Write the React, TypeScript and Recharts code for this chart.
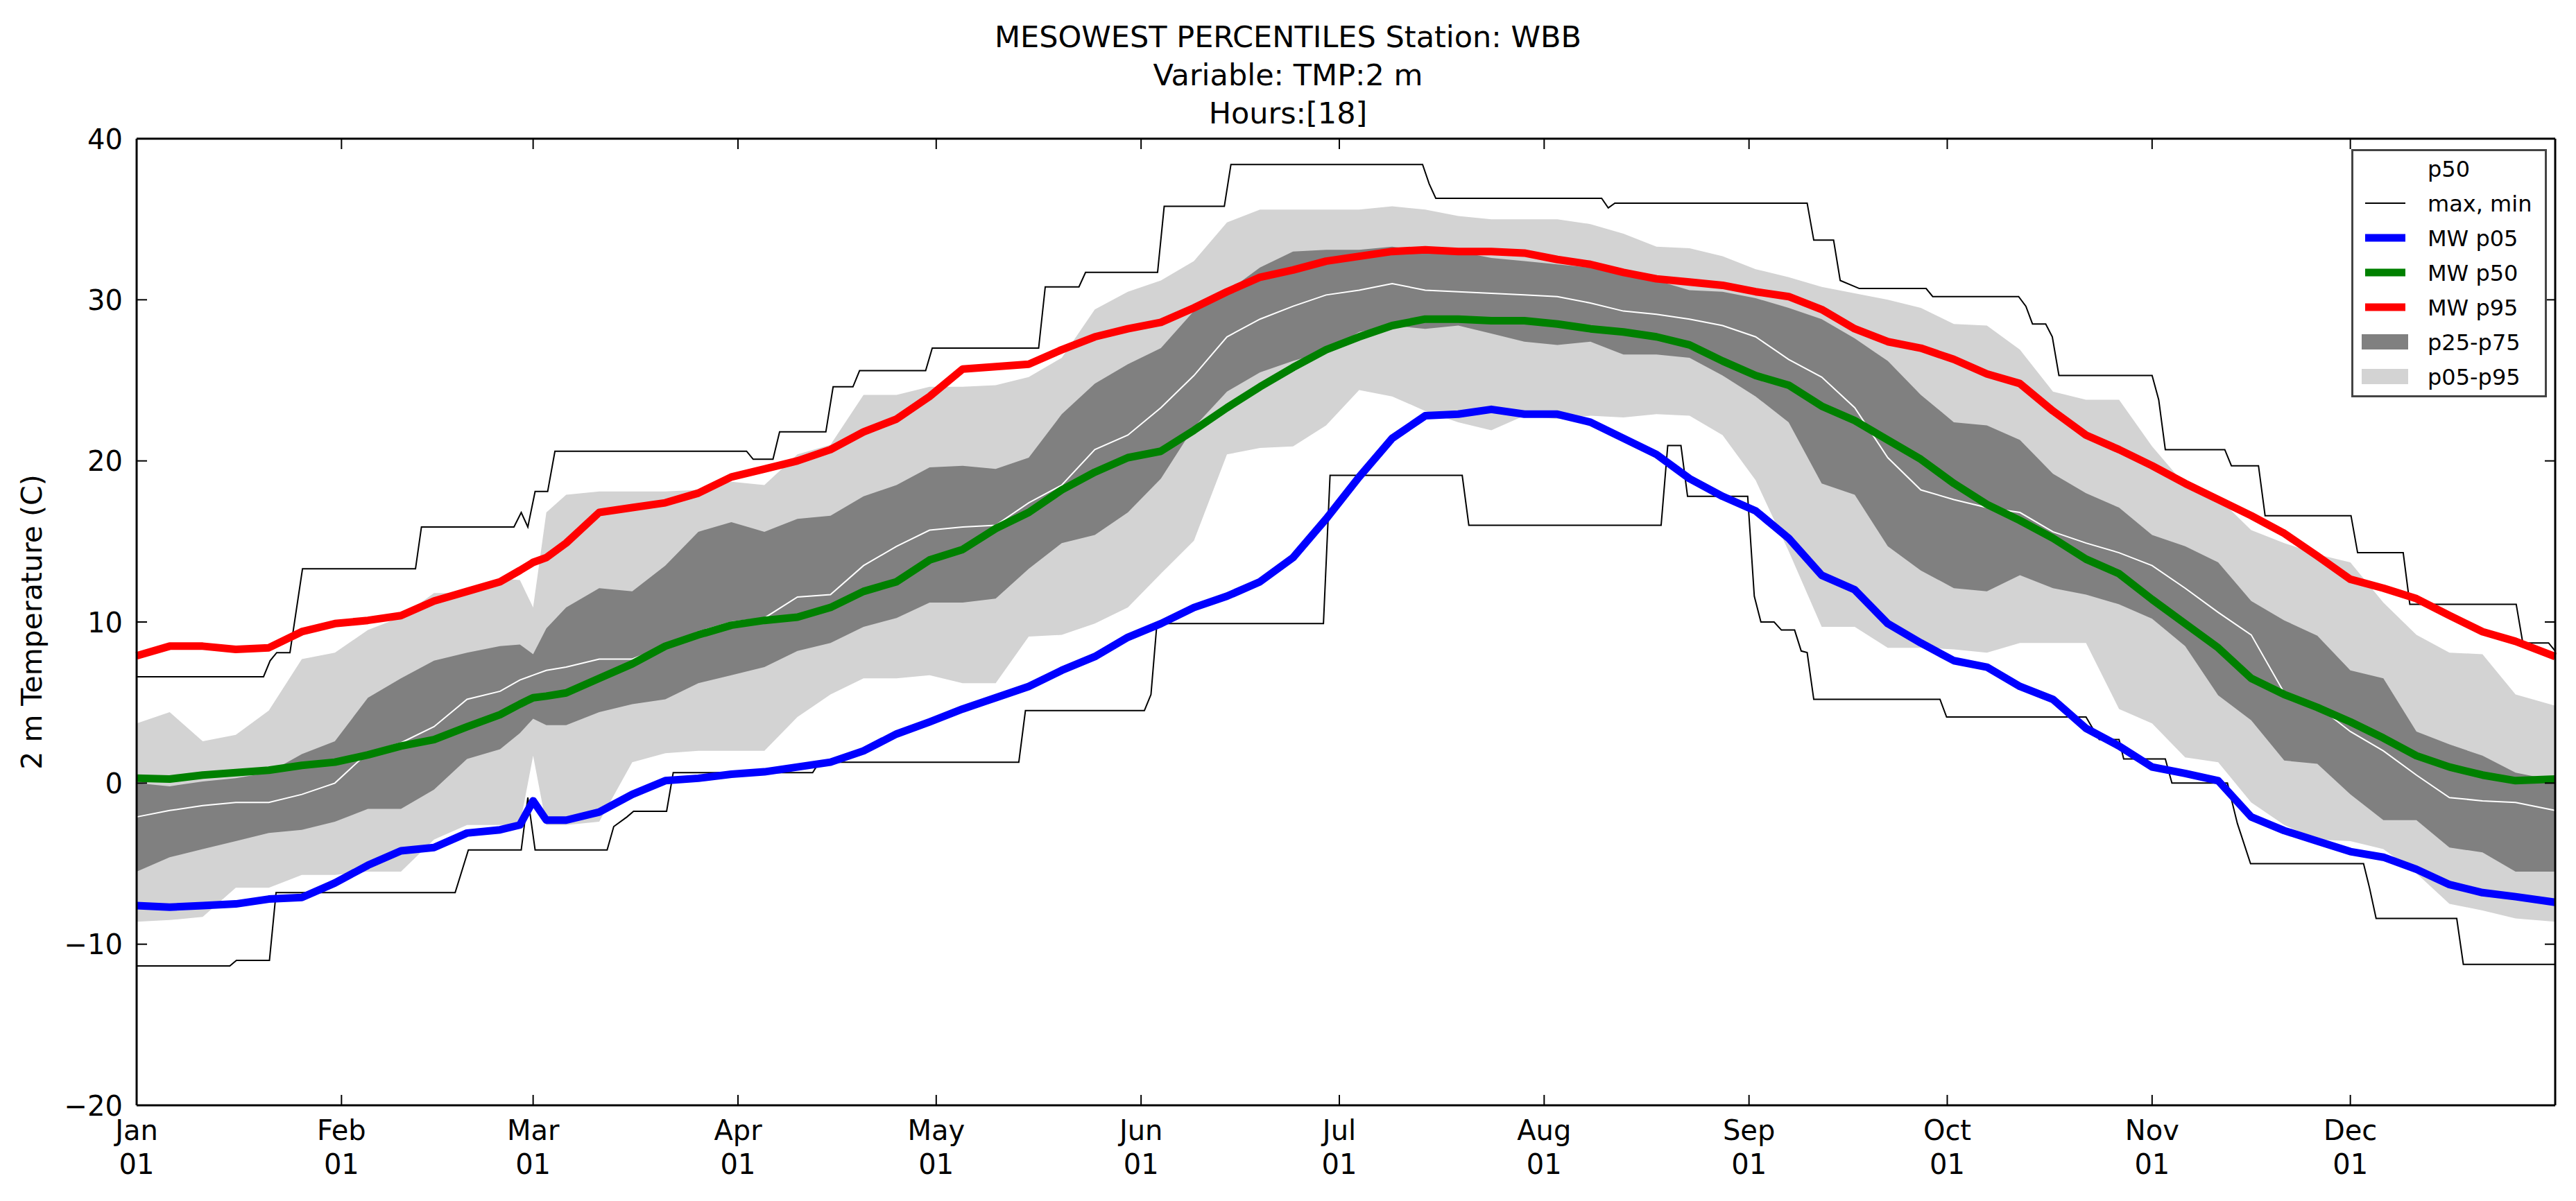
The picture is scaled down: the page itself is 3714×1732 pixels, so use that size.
import React from 'react'
import { ComposedChart, Area, Line, XAxis, YAxis, ReferenceLine, Legend } from 'recharts'

const FONT = 'DejaVu Sans, Verdana, sans-serif'

// day-of-year sample grid (leap year, Jan 01 = 0)
const DAYS = [0, 5, 10, 15, 20, 25, 30, 35, 40, 45, 50, 55, 58, 60, 62, 65, 70, 75, 80, 85, 90, 95, 100, 105, 110, 115, 120, 125, 130, 135, 140, 145, 150, 155, 160, 165, 170, 175, 180, 185, 190, 195, 200, 205, 210, 215, 220, 225, 230, 235, 240, 245, 250, 255, 260, 265, 270, 275, 280, 285, 290, 295, 300, 305, 310, 315, 320, 325, 330, 335, 340, 345, 350, 355, 360, 366]

// station percentiles
const P05 = [-8.6, -8.5, -8.3, -6.5, -6.5, -5.7, -5.7, -5.5, -5.5, -3.5, -2.6, -2.6, -2.6, 1.7, -2.6, -2.6, -2.4, 1.3, 1.85, 2.0, 2.0, 2.0, 4.1, 5.5, 6.5, 6.5, 6.7, 6.2, 6.2, 9.1, 9.2, 9.9, 10.9, 13.0, 15.05, 20.4, 20.8, 20.9, 22.2, 24.4, 24.0, 23.1, 22.4, 21.9, 22.8, 22.6, 22.8, 22.7, 22.9, 22.8, 21.6, 18.8, 14.4, 9.7, 9.7, 8.4, 8.4, 8.3, 8.1, 8.7, 8.7, 8.7, 4.6, 3.7, 1.6, 1.3, -1.2, -2.6, -3.5, -3.6, -4.1, -5.6, -7.5, -7.9, -8.4, -8.6]
const P25 = [-5.5, -4.6, -4.1, -3.6, -3.1, -2.9, -2.4, -1.6, -1.6, -0.4, 1.5, 2.1, 3.1, 4.0, 3.6, 3.6, 4.4, 4.9, 5.2, 6.2, 6.7, 7.2, 8.2, 8.7, 9.7, 10.25, 11.2, 11.2, 11.45, 13.3, 14.9, 15.4, 16.8, 18.9, 22.1, 24.3, 25.5, 26.2, 26.8, 28.0, 28.4, 28.2, 28.4, 27.9, 27.4, 27.2, 27.4, 26.6, 26.6, 26.4, 25.3, 24.0, 22.4, 18.6, 17.9, 14.7, 13.2, 12.1, 11.9, 12.9, 12.1, 11.7, 11.1, 10.2, 8.5, 5.45, 3.9, 1.4, 1.2, -0.7, -2.3, -2.3, -4.0, -4.3, -5.5, -5.5]
const P50 = [-2.1, -1.7, -1.4, -1.2, -1.2, -0.7, 0.0, 1.9, 2.5, 3.5, 5.2, 5.7, 6.4, 6.7, 7.0, 7.2, 7.7, 7.7, 8.5, 9.4, 10.0, 10.25, 11.55, 11.7, 13.5, 14.7, 15.7, 15.9, 16.0, 17.4, 18.5, 20.7, 21.6, 23.3, 25.3, 27.7, 28.8, 29.6, 30.3, 30.6, 31.0, 30.6, 30.5, 30.4, 30.3, 30.2, 29.8, 29.3, 29.1, 28.8, 28.4, 27.7, 26.3, 25.2, 23.3, 20.2, 18.2, 17.6, 17.1, 16.8, 15.6, 14.9, 14.3, 13.5, 12.1, 10.6, 9.2, 5.6, 4.8, 3.2, 2.0, 0.5, -0.9, -1.1, -1.2, -1.7]
const P75 = [0.0, -0.2, 0.1, 0.3, 0.65, 1.8, 2.6, 5.3, 6.5, 7.6, 8.1, 8.5, 8.6, 8.0, 9.6, 10.9, 12.1, 11.9, 13.5, 15.6, 16.2, 15.6, 16.4, 16.6, 17.8, 18.5, 19.6, 19.7, 19.5, 20.2, 22.9, 24.8, 26.0, 27.0, 29.3, 30.5, 32.0, 33.0, 33.1, 33.1, 33.3, 33.0, 33.0, 32.6, 32.4, 32.2, 32.0, 31.5, 31.2, 30.6, 30.5, 30.1, 29.5, 28.8, 27.6, 26.2, 24.1, 22.4, 22.2, 21.3, 19.2, 18.0, 17.1, 15.4, 14.7, 13.7, 11.3, 10.1, 9.15, 7.0, 6.5, 3.2, 2.4, 1.7, 0.65, 0.15]
const P95 = [3.7, 4.4, 2.6, 3.0, 4.5, 7.7, 8.1, 9.5, 10.3, 11.8, 11.8, 12.7, 12.6, 10.9, 16.8, 17.9, 18.1, 18.1, 18.1, 18.2, 18.7, 18.5, 20.4, 21.0, 24.1, 24.1, 24.6, 24.6, 24.7, 25.2, 26.4, 29.4, 30.5, 31.2, 32.4, 34.8, 35.6, 35.6, 35.6, 35.6, 35.8, 35.6, 35.2, 35.0, 35.0, 35.0, 34.7, 34.1, 33.3, 33.2, 32.7, 31.9, 31.4, 30.8, 30.4, 30.0, 29.5, 28.5, 28.4, 26.9, 24.3, 23.8, 23.8, 20.9, 18.5, 17.7, 15.7, 14.9, 14.2, 13.7, 11.2, 9.2, 8.1, 8.0, 5.5, 4.8]

// MesoWest percentiles
const MW_P05 = [-7.6, -7.7, -7.6, -7.5, -7.2, -7.1, -6.2, -5.1, -4.2, -4.0, -3.1, -2.9, -2.6, -1.1, -2.3, -2.3, -1.8, -0.7, 0.15, 0.3, 0.55, 0.7, 1.0, 1.3, 2.0, 3.05, 3.8, 4.6, 5.3, 6.0, 7.0, 7.85, 9.05, 9.9, 10.9, 11.6, 12.5, 14.0, 16.4, 19.0, 21.4, 22.8, 22.9, 23.2, 22.9, 22.9, 22.4, 21.4, 20.4, 18.9, 17.8, 16.9, 15.2, 12.9, 12.0, 9.9, 8.7, 7.6, 7.2, 6.0, 5.2, 3.4, 2.3, 1.0, 0.6, 0.15, -2.1, -2.95, -3.6, -4.25, -4.6, -5.35, -6.3, -6.8, -7.05, -7.4]
const MW_P50 = [0.3, 0.25, 0.5, 0.65, 0.8, 1.1, 1.3, 1.75, 2.3, 2.7, 3.5, 4.25, 4.9, 5.3, 5.4, 5.6, 6.5, 7.4, 8.5, 9.2, 9.8, 10.1, 10.3, 10.9, 11.9, 12.5, 13.85, 14.5, 15.8, 16.8, 18.2, 19.3, 20.2, 20.6, 21.9, 23.3, 24.6, 25.8, 26.9, 27.7, 28.4, 28.8, 28.8, 28.7, 28.7, 28.5, 28.2, 28.0, 27.7, 27.2, 26.2, 25.3, 24.7, 23.4, 22.5, 21.3, 20.1, 18.6, 17.3, 16.3, 15.2, 13.9, 13.0, 11.4, 9.9, 8.4, 6.5, 5.5, 4.7, 3.8, 2.8, 1.7, 1.0, 0.5, 0.15, 0.25]
const MW_P95 = [7.9, 8.5, 8.5, 8.3, 8.4, 9.4, 9.9, 10.1, 10.4, 11.3, 11.9, 12.5, 13.2, 13.7, 14.0, 14.9, 16.8, 17.1, 17.4, 18.0, 19.0, 19.5, 20.0, 20.7, 21.8, 22.6, 24.0, 25.7, 25.85, 26.0, 26.9, 27.7, 28.2, 28.6, 29.5, 30.5, 31.4, 31.85, 32.4, 32.7, 33.0, 33.1, 33.0, 33.0, 32.9, 32.5, 32.2, 31.7, 31.3, 31.1, 30.9, 30.5, 30.2, 29.4, 28.2, 27.4, 27.0, 26.3, 25.4, 24.8, 23.1, 21.6, 20.7, 19.7, 18.6, 17.6, 16.6, 15.5, 14.1, 12.65, 12.1, 11.45, 10.4, 9.4, 8.8, 7.85]

// record max / min (stepped)
const MAX_DAYS = [0, 19.2, 20.2, 21.2, 23.2, 25.1, 42.2, 43.1, 57.1, 58.2, 59.2, 60.3, 62.2, 63.3, 92.3, 93.3, 96.3, 97.3, 104.3, 105.4, 108.4, 109.4, 119.4, 120.4, 136.5, 137.5, 142.6, 143.6, 154.5, 155.5, 164.6, 165.6, 194.6, 195.6, 196.6, 221.7, 222.7, 223.7, 252.8, 253.8, 256.8, 257.8, 260.7, 270.8, 271.8, 284.8, 285.9, 286.9, 288.9, 289.9, 290.9, 305, 306, 307, 316, 317, 321.1, 322.1, 335.1, 336.1, 343, 344, 360.1, 361.1, 365, 366]
const MAX_VALS = [6.6, 6.6, 7.6, 8.1, 8.1, 13.3, 13.3, 15.9, 15.9, 16.8, 15.9, 18.1, 18.1, 20.6, 20.6, 20.1, 20.1, 21.8, 21.8, 24.6, 24.6, 25.6, 25.6, 27.0, 27.0, 30.8, 30.8, 31.7, 31.7, 35.8, 35.8, 38.4, 38.4, 37.2, 36.3, 36.3, 35.7, 36.0, 36.0, 33.7, 33.7, 31.2, 30.7, 30.7, 30.2, 30.2, 29.6, 28.5, 28.5, 27.7, 25.3, 25.3, 23.8, 20.7, 20.7, 19.7, 19.7, 16.6, 16.6, 14.3, 14.3, 11.1, 11.1, 8.7, 8.7, 8.2]
const MIN_DAYS = [0, 14.1, 15.1, 20.1, 21.1, 48.2, 50.2, 58.2, 59.2, 60.3, 71.2, 72.2, 74.2, 75.2, 80.2, 81.2, 102.3, 103.3, 133.5, 134.5, 152.5, 153.5, 154.4, 179.6, 180.6, 200.6, 201.6, 230.7, 231.7, 233.7, 234.7, 243.8, 244.8, 245.8, 247.8, 248.9, 250.9, 251.9, 252.8, 253.8, 272.9, 273.9, 295, 297, 300, 300.7, 307, 308, 316.4, 317.9, 319.9, 337, 337.9, 338.9, 351.1, 352.1, 366]
const MIN_VALS = [-11.35, -11.35, -11.0, -11.0, -6.8, -6.8, -4.15, -4.15, -0.9, -4.15, -4.15, -2.7, -2.1, -1.75, -1.75, 0.65, 0.65, 1.3, 1.3, 4.5, 4.5, 5.5, 9.9, 9.9, 19.1, 19.1, 16.0, 16.0, 20.95, 20.95, 17.8, 17.8, 11.6, 10.0, 10.0, 9.5, 9.5, 8.2, 8.1, 5.2, 5.2, 4.1, 4.1, 2.7, 2.7, 1.5, 1.5, 0.0, 0.0, -2.5, -5.0, -5.0, -6.5, -8.4, -8.4, -11.25, -11.25]

const MONTH_TICKS = [0, 31, 60, 91, 121, 152, 182, 213, 244, 274, 305, 335]
const MONTH_NAMES = ['Jan', 'Feb', 'Mar', 'Apr', 'May', 'Jun', 'Jul', 'Aug', 'Sep', 'Oct', 'Nov', 'Dec']
const Y_TICKS = [-20, -10, 0, 10, 20, 30, 40]

const TITLE_LINES = ['MESOWEST PERCENTILES Station: WBB', 'Variable: TMP:2 m', 'Hours:[18]']

const LEGEND_ITEMS = [
  { name: 'p50', kind: 'line', color: '#ffffff', width: 2 },
  { name: 'max, min', kind: 'line', color: '#000000', width: 2 },
  { name: 'MW p05', kind: 'line', color: '#0000ff', width: 11 },
  { name: 'MW p50', kind: 'line', color: '#008000', width: 11 },
  { name: 'MW p95', kind: 'line', color: '#ff0000', width: 11 },
  { name: 'p25-p75', kind: 'patch', color: '#808080', width: 0 },
  { name: 'p05-p95', kind: 'patch', color: '#d3d3d3', width: 0 },
]

const W = 3714
const H = 1732
const PLOT_TOP = 200
const PLOT_RIGHT = 3684
const TICK_LEN = 15

const rows = DAYS.map((day, i) => ({
  day,
  light: [P05[i], P95[i]],
  dark: [P25[i], P75[i]],
  p50: P50[i],
  mw05: MW_P05[i],
  mw50: MW_P50[i],
  mw95: MW_P95[i],
}))
const maxRows = MAX_DAYS.map((day, i) => ({ day, v: MAX_VALS[i] }))
const minRows = MIN_DAYS.map((day, i) => ({ day, v: MIN_VALS[i] }))

function XTick(props: any) {
  const { x, y, payload } = props
  const i = MONTH_TICKS.indexOf(payload.value)
  return (
    <g>
      <line x1={x} y1={y} x2={x} y2={y - TICK_LEN} stroke="#000" strokeWidth={2} />
      <line x1={x} y1={PLOT_TOP} x2={x} y2={PLOT_TOP + TICK_LEN} stroke="#000" strokeWidth={2} />
      <text x={x} y={y + 50} textAnchor="middle" fontSize={40} fontFamily={FONT} fill="#000">
        {MONTH_NAMES[i]}
      </text>
      <text x={x} y={y + 99} textAnchor="middle" fontSize={40} fontFamily={FONT} fill="#000">
        01
      </text>
    </g>
  )
}

function YTick(props: any) {
  const { x, y, payload } = props
  const label = String(payload.value).replace('-', '\u2212')
  return (
    <g>
      <line x1={x} y1={y} x2={x + TICK_LEN} y2={y} stroke="#000" strokeWidth={2} />
      <line x1={PLOT_RIGHT} y1={y} x2={PLOT_RIGHT - TICK_LEN} y2={y} stroke="#000" strokeWidth={2} />
      <text x={x - 20} y={y + 14.5} textAnchor="end" fontSize={40} fontFamily={FONT} fill="#000">
        {label}
      </text>
    </g>
  )
}

function LegendBox() {
  return (
    <svg width={282} height={358} style={{ display: 'block' }}>
      <rect x={1.5} y={1.5} width={279} height={355} fill="#fff" stroke="#444" strokeWidth={3} />
      {LEGEND_ITEMS.map((item, i) => {
        const cy = 28 + i * 50
        return (
          <g key={item.name}>
            {item.kind === 'line' ? (
              <line x1={20} y1={cy} x2={78} y2={cy} stroke={item.color} strokeWidth={item.width} />
            ) : (
              <rect x={15} y={cy - 11} width={67} height={22} fill={item.color} />
            )}
            <text x={110} y={cy + 11.5} fontSize={32} fontFamily={FONT} fill="#000">
              {item.name}
            </text>
          </g>
        )
      })}
    </svg>
  )
}

export default function App() {
  return (
    <div style={{ position: 'absolute', left: 0, top: 0, width: W, height: H, background: '#fff' }}>
      <ComposedChart
        width={W}
        height={H}
        data={rows}
        margin={{ top: PLOT_TOP, right: W - PLOT_RIGHT, bottom: 0, left: 0 }}
      >
        <Area
          dataKey="light"
          type="linear"
          stroke="none"
          fill="#d3d3d3"
          fillOpacity={1}
          isAnimationActive={false}
          legendType="none"
        />
        <Area
          dataKey="dark"
          type="linear"
          stroke="none"
          fill="#808080"
          fillOpacity={1}
          isAnimationActive={false}
          legendType="none"
        />
        <Line dataKey="p50" type="linear" stroke="#fff" strokeWidth={2} dot={false} isAnimationActive={false} />
        <Line data={maxRows} dataKey="v" type="linear" stroke="#000" strokeWidth={2} dot={false} isAnimationActive={false} />
        <Line data={minRows} dataKey="v" type="linear" stroke="#000" strokeWidth={2} dot={false} isAnimationActive={false} />
        <Line dataKey="mw05" type="linear" stroke="#0000ff" strokeWidth={11} strokeLinejoin="round" dot={false} isAnimationActive={false} />
        <Line dataKey="mw50" type="linear" stroke="#008000" strokeWidth={11} strokeLinejoin="round" dot={false} isAnimationActive={false} />
        <Line dataKey="mw95" type="linear" stroke="#ff0000" strokeWidth={11} strokeLinejoin="round" dot={false} isAnimationActive={false} />
        <ReferenceLine y={40} stroke="#000" strokeWidth={3} />
        <ReferenceLine x={366} stroke="#000" strokeWidth={3} />
        <XAxis
          dataKey="day"
          type="number"
          domain={[0, 366]}
          ticks={MONTH_TICKS}
          interval={0}
          height={H - 1594}
          tickSize={0}
          tickMargin={0}
          tickLine={false}
          axisLine={{ stroke: '#000', strokeWidth: 3 }}
          tick={<XTick />}
        />
        <YAxis
          type="number"
          domain={[-20, 40]}
          ticks={Y_TICKS}
          interval={0}
          width={197}
          tickSize={0}
          tickMargin={0}
          tickLine={false}
          axisLine={{ stroke: '#000', strokeWidth: 3 }}
          tick={<YTick />}
        />
        <Legend
          layout="horizontal"
          verticalAlign="middle"
          align="center"
          content={() => <LegendBox />}
          wrapperStyle={{ left: 3390, top: 215, width: 282, height: 358 }}
        />
      </ComposedChart>
      <svg
        width={W}
        height={H}
        style={{ position: 'absolute', left: 0, top: 0, pointerEvents: 'none' }}
      >
        {TITLE_LINES.map((t, i) => (
          <text key={t} x={1857} y={68 + i * 55} textAnchor="middle" fontSize={43} fontFamily={FONT} fill="#000">
            {t}
          </text>
        ))}
        <text
          x={60}
          y={897}
          textAnchor="middle"
          fontSize={41}
          fontFamily={FONT}
          fill="#000"
          transform="rotate(-90 60 897)"
        >
          2 m Temperature (C)
        </text>
      </svg>
    </div>
  )
}
